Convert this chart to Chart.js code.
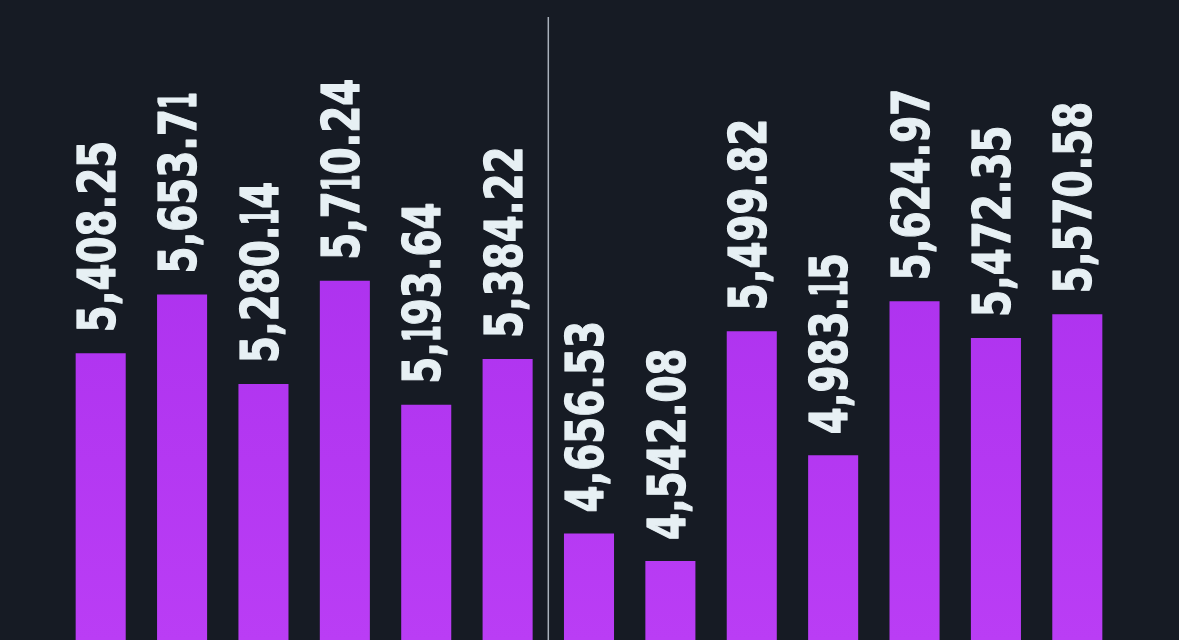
<!DOCTYPE html>
<html>
<head>
<meta charset="utf-8">
<script src="https://cdn.jsdelivr.net/npm/chart.js@4.4.1/dist/chart.umd.min.js"></script>
<style>
  html, body { margin: 0; padding: 0; background: #161b24; }
  #wrap { width: 1179px; height: 640px; position: relative; }
</style>
</head>
<body>
<div id="wrap"><canvas id="barChart"></canvas></div>
<script>
// values, left to right
const categories = ['1', '2', '3', '4', '5', '6', '7', '8', '9', '10', '11', '12', '13'];
const values = [5408.25, 5653.71, 5280.14, 5710.24, 5193.64, 5384.22, 4656.53, 4542.08, 5499.82, 4983.15, 5624.97, 5472.35, 5570.58];
// the divider sits between these two categories
const dividerAfter = 5;
// visible value range (bars run off the bottom edge)
const yMin = 4212;
const yMax = 6882;

const LABEL_CAP = 37;     // cap height of value labels
const LABEL_DIGIT = 27;   // digit advance along the label
const LABEL_GAP = 21;     // space between bar top and label
const ONE_WIDTH = 0.62;   // the "1" is narrower in the picture's face

function fmt(v) {
    return v.toLocaleString('en-US', { minimumFractionDigits: 2, maximumFractionDigits: 2 });
}

// pick a size and stretch so the labels look like the condensed face in the picture
function labelFont(ctx) {
    const fam = '"Liberation Sans Narrow", "DejaVu Sans Condensed", "DejaVu Sans", sans-serif';
    ctx.font = 'bold 100px ' + fam;
    const cap = ctx.measureText('5').actualBoundingBoxAscent;
    const adv = ctx.measureText('0').width;
    const size = 100 * LABEL_CAP / cap;
    const stretch = LABEL_DIGIT / (adv * size / 100);
    return { font: 'bold ' + size.toFixed(1) + 'px ' + fam, stretch: stretch };
}

const valueLabels = {
    id: 'valueLabels',
    afterDatasetsDraw(chart) {
        const ctx = chart.ctx;
        const lf = labelFont(ctx);
        const meta = chart.getDatasetMeta(0);
        ctx.save();
        ctx.fillStyle = '#e7f0f4';
        ctx.strokeStyle = '#e7f0f4';
        ctx.lineWidth = 1.2;
        ctx.lineJoin = 'round';
        ctx.font = lf.font;
        ctx.textAlign = 'center';
        ctx.textBaseline = 'middle';
        meta.data.forEach((bar, i) => {
            ctx.save();
            ctx.translate(bar.x + 1, bar.y - LABEL_GAP);
            ctx.rotate(-Math.PI / 2);
            let pos = 0;
            for (const ch of fmt(values[i])) {
                const k = ch === '1' ? lf.stretch * ONE_WIDTH : lf.stretch;
                const w = ctx.measureText(ch).width * k;
                ctx.save();
                ctx.translate(pos + w / 2, 0);
                ctx.scale(k, 1);
                ctx.fillText(ch, 0, 0);
                ctx.strokeText(ch, 0, 0);
                ctx.restore();
                pos += w;
            }
            ctx.restore();
        });
        ctx.restore();
    }
};

const divider = {
    id: 'divider',
    afterDatasetsDraw(chart) {
        const x = chart.scales.x;
        const px = (x.getPixelForValue(dividerAfter) + x.getPixelForValue(dividerAfter + 1)) / 2;
        const ctx = chart.ctx;
        ctx.save();
        ctx.strokeStyle = '#a9b1bb';
        ctx.lineWidth = 1.5;
        ctx.beginPath();
        ctx.moveTo(px, chart.chartArea.top + 17);
        ctx.lineTo(px, chart.chartArea.bottom);
        ctx.stroke();
        ctx.restore();
    }
};

const ctx = document.getElementById('barChart').getContext('2d');

new Chart(ctx, {
    type: 'bar',
    data: {
        labels: categories,
        datasets: [{
            data: values,
            backgroundColor(c) {
                const area = c.chart.chartArea;
                if (!area) return '#b033ee';
                const g = c.chart.ctx.createLinearGradient(0, area.top, 0, area.bottom);
                g.addColorStop(0, '#a52bea');
                g.addColorStop(1, '#ba3df5');
                return g;
            },
            borderWidth: 0,
            barPercentage: 0.615,
            categoryPercentage: 1
        }]
    },
    options: {
        responsive: true,
        maintainAspectRatio: false,
        animation: false,
        layout: { padding: { left: 60, right: 61, top: 0, bottom: 0 } },
        plugins: {
            legend: { display: false },
            tooltip: { enabled: false }
        },
        scales: {
            x: { display: false, grid: { display: false } },
            y: { display: false, min: yMin, max: yMax, grid: { display: false } }
        }
    },
    plugins: [divider, valueLabels]
});
</script>
</body>
</html>
